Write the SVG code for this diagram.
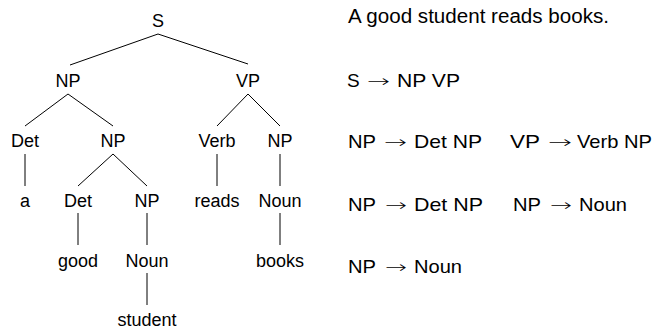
<svg xmlns="http://www.w3.org/2000/svg" width="656" height="329" viewBox="0 0 656 329">
<style>
text{font-family:"Liberation Sans",Arial,sans-serif;fill:#000}
.t{font-size:18px;text-anchor:middle}
.r{font-size:19px}
.s{font-size:20px}
.ar{font-family:"DejaVu Sans",sans-serif;font-size:17px;font-weight:200}
#edges line{stroke:#000;stroke-width:1}
</style>
<rect width="656" height="329" fill="#fff"/>
<g id="edges">
<line x1="158" y1="34" x2="70" y2="65"/>
<line x1="158" y1="34" x2="248" y2="64"/>
<line x1="68" y1="94" x2="25" y2="126"/>
<line x1="68" y1="94" x2="113" y2="126"/>
<line x1="248" y1="94" x2="217" y2="126"/>
<line x1="248" y1="94" x2="280" y2="126"/>
<line x1="25" y1="154" x2="25" y2="186"/>
<line x1="113" y1="154" x2="78" y2="186"/>
<line x1="113" y1="154" x2="147" y2="186"/>
<line x1="217" y1="154" x2="217" y2="186"/>
<line x1="280" y1="154" x2="280" y2="186"/>
<line x1="78" y1="213" x2="78" y2="245"/>
<line x1="147" y1="213" x2="147" y2="245"/>
<line x1="280" y1="213" x2="280" y2="245"/>
<line x1="147" y1="273" x2="147" y2="305"/>
</g>
<g id="n-S"><text class="t" x="158" y="27">S</text></g>
<g id="n-NP1"><text class="t" x="68" y="87">NP</text></g>
<g id="n-VP"><text class="t" x="248" y="87">VP</text></g>
<g id="n-Det1"><text class="t" x="25" y="147">Det</text></g>
<g id="n-NP2"><text class="t" x="113" y="147">NP</text></g>
<g id="n-Verb"><text class="t" x="217" y="147">Verb</text></g>
<g id="n-NP3"><text class="t" x="280" y="147">NP</text></g>
<g id="n-a"><text class="t" x="25" y="207">a</text></g>
<g id="n-Det2"><text class="t" x="78" y="207">Det</text></g>
<g id="n-NP4"><text class="t" x="147" y="207">NP</text></g>
<g id="n-reads"><text class="t" x="217" y="207">reads</text></g>
<g id="n-Noun1"><text class="t" x="280" y="207">Noun</text></g>
<g id="n-good"><text class="t" x="78" y="267">good</text></g>
<g id="n-Noun2"><text class="t" x="147" y="267">Noun</text></g>
<g id="n-books"><text class="t" x="280" y="267">books</text></g>
<g id="n-student"><text class="t" x="147" y="326">student</text></g>
<g id="sentence"><text class="s" x="348" y="23" textLength="261" lengthAdjust="spacingAndGlyphs">A good student reads books.</text></g>
<g id="rules">
<text class="r" x="347" y="87">S</text>
<text class="ar" x="367" y="87" textLength="23" lengthAdjust="spacingAndGlyphs">→</text>
<text class="r" x="397" y="87" textLength="63" lengthAdjust="spacingAndGlyphs">NP VP</text>

<text class="r" x="348" y="148" textLength="28" lengthAdjust="spacingAndGlyphs">NP</text>
<text class="ar" x="384" y="148" textLength="23" lengthAdjust="spacingAndGlyphs">→</text>
<text class="r" x="414" y="148" textLength="68" lengthAdjust="spacingAndGlyphs">Det NP</text>
<text class="r" x="510" y="148" textLength="30" lengthAdjust="spacingAndGlyphs">VP</text>
<text class="ar" x="548" y="148" textLength="24" lengthAdjust="spacingAndGlyphs">→</text>
<text class="r" x="577" y="148" textLength="75" lengthAdjust="spacingAndGlyphs">Verb NP</text>

<text class="r" x="348" y="211" textLength="28" lengthAdjust="spacingAndGlyphs">NP</text>
<text class="ar" x="385" y="211" textLength="22" lengthAdjust="spacingAndGlyphs">→</text>
<text class="r" x="414" y="211" textLength="69" lengthAdjust="spacingAndGlyphs">Det NP</text>
<text class="r" x="513" y="211" textLength="28" lengthAdjust="spacingAndGlyphs">NP</text>
<text class="ar" x="550" y="211" textLength="22" lengthAdjust="spacingAndGlyphs">→</text>
<text class="r" x="579" y="211" textLength="48" lengthAdjust="spacingAndGlyphs">Noun</text>

<text class="r" x="348" y="273" textLength="28" lengthAdjust="spacingAndGlyphs">NP</text>
<text class="ar" x="385" y="273" textLength="22" lengthAdjust="spacingAndGlyphs">→</text>
<text class="r" x="414" y="273" textLength="48" lengthAdjust="spacingAndGlyphs">Noun</text>
</g>
</svg>
